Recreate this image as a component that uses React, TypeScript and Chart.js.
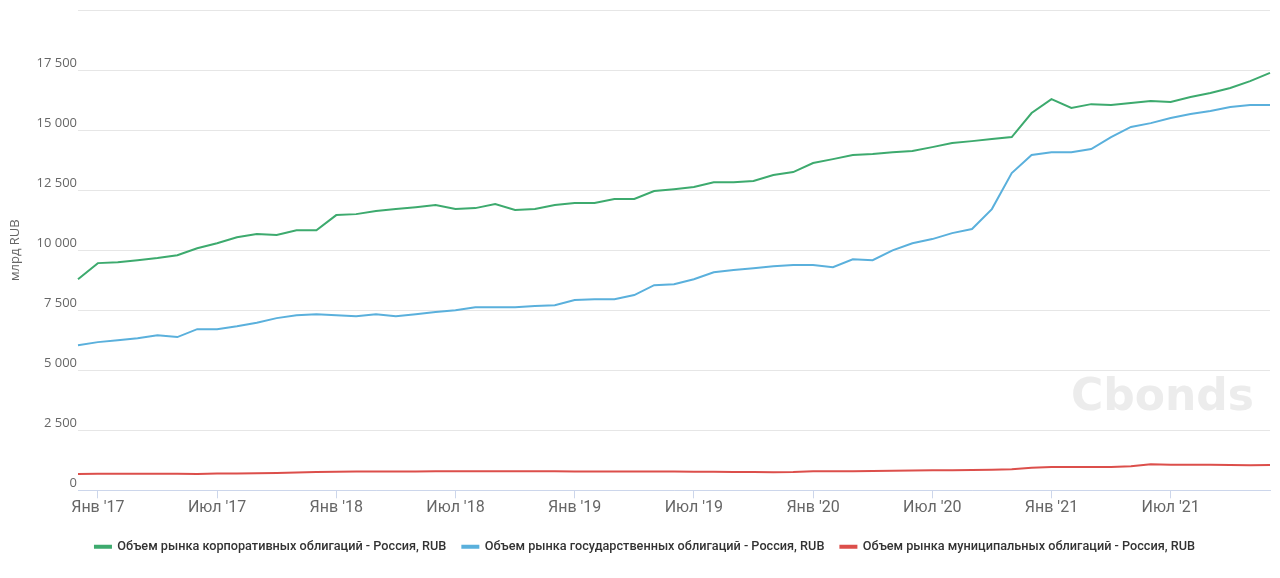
import React, { useEffect, useRef } from "react";
import { Chart, registerables } from "chart.js";

Chart.register(...registerables);

const MONTHS = ["Янв", "Фев", "Мар", "Апр", "Май", "Июн", "Июл", "Авг", "Сен", "Окт", "Ноя", "Дек"];

// Monthly points from Dec 2016 to Dec 2021
const categories: string[] = [];
for (let k = 0; k < 61; k++) {
  const m = (11 + k) % 12;
  const y = 2016 + Math.floor((11 + k) / 12);
  categories.push(MONTHS[m] + " '" + String(y).slice(2));
}

const corporate = [
  8790, 9460, 9500, 9580, 9670, 9790, 10080, 10290, 10540, 10670,
  10630, 10830, 10830, 11460, 11500, 11630, 11710, 11790, 11880, 11710,
  11750, 11920, 11670, 11710, 11880, 11960, 11960, 12130, 12130, 12460,
  12540, 12630, 12830, 12830, 12880, 13130, 13250, 13630, 13790, 13960,
  14000, 14080, 14130, 14290, 14460, 14540, 14630, 14710, 15710, 16290,
  15920, 16080, 16040, 16130, 16210, 16170, 16380, 16540, 16750, 17040,
  17380,
];

const government = [
  6040, 6170, 6250, 6330, 6460, 6380, 6710, 6710, 6830, 6980,
  7170, 7290, 7330, 7290, 7250, 7330, 7250, 7330, 7420, 7500,
  7625, 7625, 7625, 7670, 7710, 7920, 7960, 7960, 8130, 8540,
  8580, 8790, 9080, 9170, 9250, 9330, 9380, 9380, 9290, 9620,
  9580, 9990, 10290, 10460, 10710, 10880, 11710, 13210, 13960, 14080,
  14080, 14210, 14710, 15130, 15290, 15500, 15670, 15790, 15960, 16040,
  16040,
];

const municipal = [
  680, 690, 690, 690, 690, 690, 680, 700, 700, 710,
  720, 740, 760, 775, 780, 780, 780, 785, 790, 790,
  790, 790, 790, 790, 790, 785, 785, 785, 780, 780,
  780, 775, 770, 765, 760, 755, 760, 790, 795, 795,
  800, 810, 820, 830, 840, 845, 855, 880, 940, 970,
  970, 970, 970, 1000, 1080, 1060, 1060, 1060, 1050, 1040,
  1050,
];

const seriesNames = [
  "Объем рынка корпоративных облигаций - Россия, RUB",
  "Объем рынка государственных облигаций - Россия, RUB",
  "Объем рынка муниципальных облигаций - Россия, RUB",
];
const yTitle = "млрд RUB";
const watermark = "Cbonds";

const fmt = (v: number) => String(Math.round(v)).replace(/\B(?=(\d{3})+(?!\d))/g, " ");

const watermarkPlugin = {
  id: "watermark",
  afterLayout(chart: any) {
    const lg = chart.legend;
    if (lg) {
      lg.left += 10;
      lg.right += 10;
    }
  },
  beforeDatasetsDraw(chart: any) {
    const { ctx } = chart;
    ctx.save();
    ctx.font = "bold 44px 'DejaVu Sans'";
    ctx.fillStyle = "#ececec";
    ctx.textAlign = "right";
    ctx.textBaseline = "alphabetic";
    ctx.fillText(watermark, 1254, 410);
    ctx.restore();
  },
};

export default function App() {
  const ref = useRef<HTMLCanvasElement | null>(null);
  useEffect(() => {
    document.body.style.margin = "0";
    const canvas = ref.current!;
    const chart = new Chart(canvas, {
      type: "line",
      data: {
        labels: categories,
        datasets: [
          { label: seriesNames[0], data: corporate, borderColor: "#3daa6e", backgroundColor: "#3daa6e" },
          { label: seriesNames[1], data: government, borderColor: "#5ab0dc", backgroundColor: "#5ab0dc" },
          { label: seriesNames[2], data: municipal, borderColor: "#dc4f4b", backgroundColor: "#dc4f4b" },
        ].map((d) => ({ ...d, borderWidth: 2, pointRadius: 0, tension: 0, fill: false })),
      },
      options: {
        animation: false,
        responsive: false,
        maintainAspectRatio: false,
        layout: { padding: { top: 10, right: 10, left: 0, bottom: 15 } },
        plugins: {
          tooltip: { enabled: false },
          legend: {
            position: "bottom",
            labels: {
              boxWidth: 16,
              boxHeight: 2,
              padding: 16,
              color: "#333333",
              font: { family: "Roboto", size: 12.7, weight: "500" },
            },
          },
        },
        scales: {
          x: {
            type: "category",
            grid: { drawOnChartArea: false, drawTicks: true, tickLength: 8, color: "#ccd6eb" },
            border: { display: true, color: "#ccd6eb" },
            ticks: {
              autoSkip: false,
              maxRotation: 0,
              padding: 0,
              color: "#666666",
              font: { family: "Roboto", size: 16 },
              callback: (_v: any, i: number) => {
                const m = (11 + i) % 12;
                return m === 0 || m === 6 ? categories[i] : null;
              },
            },
            afterFit: (s: any) => {
              s.height = 34;
            },
          },
          y: {
            min: 0,
            max: 20000,
            grid: { color: "#e6e6e6", drawTicks: false },
            border: { display: false },
            ticks: {
              stepSize: 2500,
              padding: 1,
              labelOffset: -7,
              color: "#666666",
              font: { family: "Open Sans", size: 13 },
              callback: (v: any) => (v === 20000 ? "" : fmt(Number(v))),
            },
            title: {
              display: true,
              text: yTitle,
              color: "#666666",
              font: { family: "Open Sans", size: 13 },
              padding: { top: 7, bottom: 0 },
            },
            afterFit: (s: any) => {
              s.width = 78;
            },
          },
        },
      },
      plugins: [watermarkPlugin],
    });
    return () => chart.destroy();
  }, []);
  return (
    <div style={{ width: 1280, height: 578 }}>
      <canvas ref={ref} width={1280} height={578} />
    </div>
  );
}
